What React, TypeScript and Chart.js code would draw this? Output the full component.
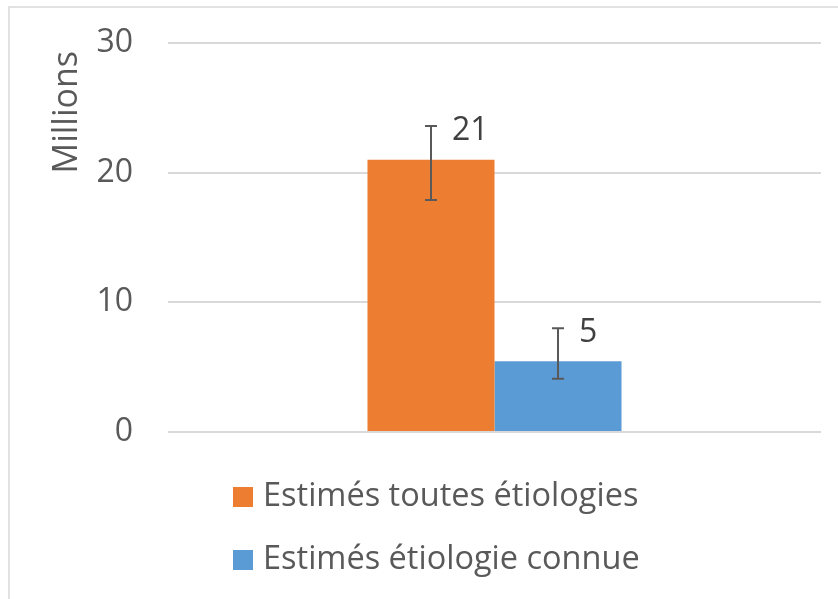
import React, { useEffect, useRef } from "react";
import { Chart, registerables } from "chart.js";

Chart.register(...registerables);

const categories = [""];
const seriesNames = ["Estimés toutes étiologies", "Estimés étiologie connue"];
const seriesValues = [21, 5.45];
const errLow = [17.9, 4.1];
const errHigh = [23.6, 8.0];
const valueLabels = ["21", "5"];
const seriesColors = ["#ED7D31", "#5B9BD5"];
const yTicks = [0, 10, 20, 30];
const yTitle = "Millions";

const FONT = "'Open Sans', 'Noto Sans', sans-serif";
const TEXT = "#595959";

const framePlugin = {
  id: "frame",
  beforeDraw(chart: any) {
    const ctx = chart.ctx;
    ctx.save();
    ctx.strokeStyle = "#D9D9D9";
    ctx.lineWidth = 1.5;
    ctx.beginPath();
    ctx.moveTo(9, chart.height + 5);
    ctx.lineTo(9, 7);
    ctx.lineTo(chart.width + 5, 7);
    ctx.stroke();
    ctx.restore();
  },
  afterDraw(chart: any) {
    const ctx = chart.ctx;
    ctx.save();
    ctx.translate(67, chart.chartArea.top + 8);
    ctx.rotate(-Math.PI / 2);
    ctx.font = `34px ${FONT}`;
    ctx.fillStyle = TEXT;
    ctx.textAlign = "right";
    ctx.textBaseline = "middle";
    ctx.fillText(yTitle, 0, 0);
    ctx.restore();
  },
};

const errorPlugin = {
  id: "errorBars",
  afterDatasetsDraw(chart: any) {
    const ctx = chart.ctx;
    const y = chart.scales.y;
    ctx.save();
    chart.data.datasets.forEach((ds: any, i: number) => {
      const meta = chart.getDatasetMeta(i);
      meta.data.forEach((bar: any) => {
        const x = bar.x;
        const yl = y.getPixelForValue(errLow[i]);
        const yh = y.getPixelForValue(errHigh[i]);
        ctx.strokeStyle = "#595959";
        ctx.lineWidth = 2;
        ctx.beginPath();
        ctx.moveTo(x, yl);
        ctx.lineTo(x, yh);
        ctx.moveTo(x - 6, yl);
        ctx.lineTo(x + 6, yl);
        ctx.moveTo(x - 6, yh);
        ctx.lineTo(x + 6, yh);
        ctx.stroke();
        ctx.fillStyle = "#404040";
        ctx.font = `32px ${FONT}`;
        ctx.textAlign = "left";
        ctx.textBaseline = "middle";
        ctx.fillText(valueLabels[i], x + 21, yh + 5);
      });
    });
    ctx.restore();
  },
};

const legendPlugin = {
  id: "customLegend",
  afterDraw(chart: any) {
    const ctx = chart.ctx;
    ctx.save();
    ctx.font = `32.5px ${FONT}`;
    ctx.textBaseline = "middle";
    ctx.textAlign = "left";
    const left = 233;
    const rows = [497, 560];
    chart.data.datasets.forEach((ds: any, i: number) => {
      const cy = rows[i];
      ctx.fillStyle = ds.backgroundColor;
      ctx.fillRect(left, cy - 10, 20, 20);
      ctx.fillStyle = TEXT;
      ctx.fillText(ds.label, left + 30, cy);
    });
    ctx.restore();
  },
};

export default function App() {
  const ref = useRef<HTMLCanvasElement | null>(null);
  useEffect(() => {
    if (!ref.current) return;
    const chart = new Chart(ref.current, {
      type: "bar",
      data: {
        labels: categories,
        datasets: seriesNames.map((name, i) => ({
          label: name,
          data: [seriesValues[i]],
          backgroundColor: seriesColors[i],
          borderWidth: 0,
          categoryPercentage: 0.389,
          barPercentage: 1,
        })),
      },
      options: {
        responsive: false,
        animation: false,
        layout: { padding: { left: 0, right: 17, top: 43, bottom: 167 } },
        plugins: {
          legend: { display: false },
          tooltip: { enabled: false },
        },
        scales: {
          x: {
            ticks: { display: false },
            grid: { display: false },
            border: { display: false },
            afterFit(scale: any) {
              scale.height = 0;
              scale.paddingLeft = 0;
              scale.paddingRight = 0;
            },
          },
          y: {
            min: 0,
            max: 30,
            afterBuildTicks(scale: any) {
              scale.ticks = yTicks.map((v) => ({ value: v }));
            },
            afterFit(scale: any) {
              scale.width = 168;
              scale.paddingTop = 0;
              scale.paddingBottom = 0;
            },
            ticks: {
              padding: 35,
              color: TEXT,
              font: { family: FONT, size: 32 },
            },
            grid: { color: "#D9D9D9", lineWidth: 2, drawTicks: false },
            border: { display: false },
            title: { display: false },
          },
        },
      },
      plugins: [framePlugin, errorPlugin, legendPlugin],
    });
    return () => chart.destroy();
  }, []);
  return (
    <div style={{ position: "absolute", left: 0, top: 0, width: 838, height: 599, background: "#fff" }}>
      <canvas ref={ref} width={838} height={599} style={{ display: "block" }} />
    </div>
  );
}
